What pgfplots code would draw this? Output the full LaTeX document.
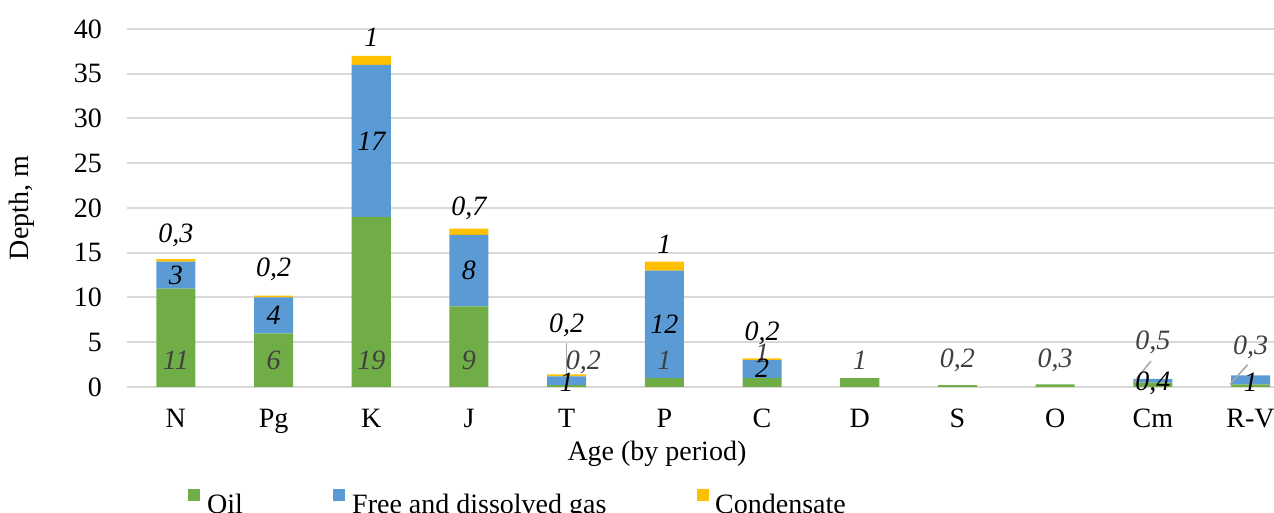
\documentclass[border=0pt]{standalone}
\usepackage{pgfplots}
\pgfplotsset{compat=1.18}
\usepackage{fontspec}
\setmainfont{Liberation Serif}

\definecolor{oilgreen}{HTML}{70AD47}
\definecolor{gasblue}{HTML}{5B9BD5}
\definecolor{condyellow}{HTML}{FFC000}
\definecolor{gridgray}{HTML}{D9D9D9}
\definecolor{labelgray}{HTML}{404040}
\definecolor{leadergray}{HTML}{A6A6A6}

\newcommand{\chartfont}{\fontsize{28}{33}\selectfont}

\pgfplotsset{
  chartframe/.style={
    at={(127pt,126pt)}, anchor=south west,
    scale only axis, width=1147pt, height=358pt,
    xmin=-0.5, xmax=11.24, ymin=0, ymax=40,
    clip=false,
  },
}

\begin{document}
\begin{tikzpicture}
\useasboundingbox (0,0) rectangle (1274pt,513pt);

% bars
\begin{axis}[
    chartframe,
    font=\chartfont,
    ybar stacked, bar width=0.4,
    legend image code/.code={\fill[#1] (0pt,4pt) rectangle (12pt,16pt);},
    ytick={0,5,...,40},
    xtick={0,...,11},
    xticklabels={N,Pg,K,J,T,P,C,D,S,O,Cm,R-V},
    major tick length=0pt,
    axis line style={draw=none},
    ymajorgrids, grid style={line width=2pt, color=gridgray},
    /pgf/number format/assume math mode=true,
    xticklabel style={anchor=base, yshift=-41pt},
    yticklabel style={anchor=east, inner sep=0pt, xshift=-25pt},
    xlabel={Age (by period)},
    xlabel style={at={(axis description cs:0.462,-0.204)}, anchor=base},
    ylabel={Depth, m},
    ylabel style={at={(axis description cs:-0.0915,0.5)}, anchor=center},
    legend columns=3,
    legend style={draw=none, fill=none, inner sep=0pt,
      at={(axis description cs:0.0532,-0.3295)}, anchor=base west,
      nodes={inner sep=0pt, font=\chartfont},
      /tikz/every even column/.style={column sep=0pt}},
  ]
  \addplot[fill=oilgreen, draw=none] coordinates {
    (0,11) (1,6) (2,19) (3,9) (4,0.2) (5,1) (6,1) (7,1) (8,0.2) (9,0.3) (10,0.5) (11,0.3)};
  \addlegendentry{\hspace{7pt}\makebox[126pt][l]{Oil}}
  \addplot[fill=gasblue, draw=none] coordinates {
    (0,3) (1,4) (2,17) (3,8) (4,1) (5,12) (6,2) (7,0) (8,0) (9,0) (10,0.4) (11,1)};
  \addlegendentry{\hspace{7pt}\makebox[345pt][l]{Free and dissolved gas}}
  \addplot[fill=condyellow, draw=none] coordinates {
    (0,0.3) (1,0.2) (2,1) (3,0.7) (4,0.2) (5,1) (6,0.2) (7,0) (8,0) (9,0) (10,0) (11,0)};
  \addlegendentry{\hspace{6pt}Condensate}
\end{axis}

% data labels and leader lines
\begin{axis}[
    chartframe, hide axis,
    nodes near coords, point meta=explicit symbolic,
    nodes near coords style={font=\chartfont\itshape, anchor=center, inner sep=0pt},
  ]
  \addplot[leadergray, line width=1.5pt] coordinates {(4,4.9) (4,1.4)};
  \addplot[leadergray, line width=1.5pt] coordinates {(9.98,2.9) (9.80,0.45)};
  \addplot[leadergray, line width=1.5pt] coordinates {(10.97,2.5) (10.79,0.3)};
  % oil
  \addplot[draw=none, mark=none, nodes near coords style={text=labelgray}] coordinates {
    (0,3) [11] (1,3) [6] (2,3) [19] (3,3) [9] (4.17,2.7) [{0,2}] (5,3) [1]
    (6,3.8) [1] (7,3) [1] (8,3) [{0,2}] (9,3) [{0,3}] (10,5.0) [{0,5}] (11,4.4) [{0,3}]};
  % gas
  \addplot[draw=none, mark=none, nodes near coords style={text=black}] coordinates {
    (0,12.5) [3] (1,8) [4] (2,27.5) [17] (3,13) [8] (4,0.5) [1] (5,7) [12]
    (6,2.1) [2] (10,0.45) [{0,4}] (11,0.5) [1]};
  % condensate
  \addplot[draw=none, mark=none, nodes near coords style={text=black}] coordinates {
    (0,16.9) [{0,3}] (1,13.1) [{0,2}] (2,39.1) [1] (3,20) [{0,7}] (4,6.9) [{0,2}]
    (5,15.9) [1] (6,6.0) [{0,2}]};
\end{axis}
\end{tikzpicture}
\end{document}
